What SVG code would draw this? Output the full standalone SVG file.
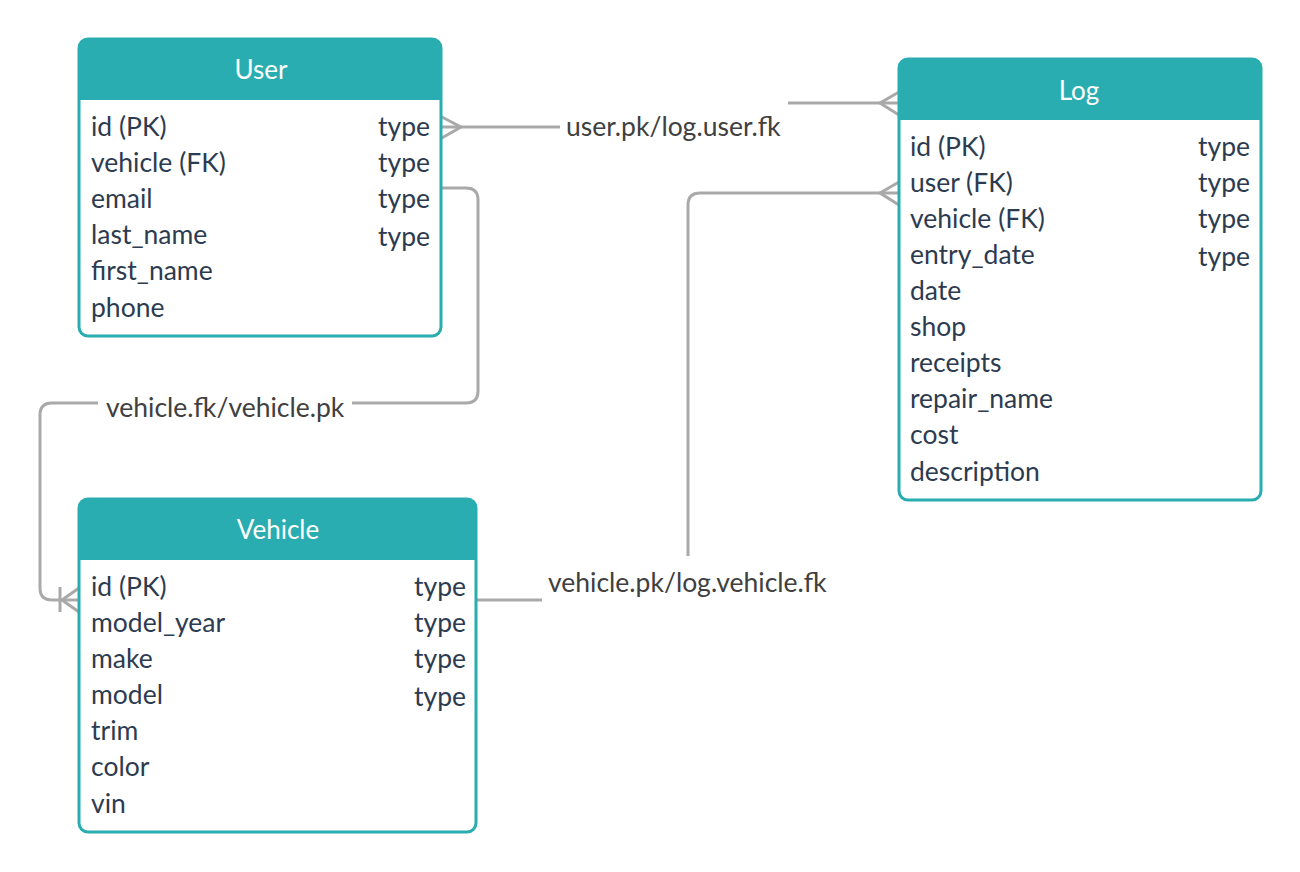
<svg xmlns="http://www.w3.org/2000/svg" width="1300" height="872" viewBox="0 0 1300 872">
<style>
.box{fill:#ffffff;stroke:#29adb0;stroke-width:3}
.hdr{fill:#29adb0}
.title{font-family:Lato,"Liberation Sans",sans-serif;font-size:26px;fill:#ffffff;text-anchor:middle}
.row{font-family:Lato,"Liberation Sans",sans-serif;font-size:26.5px;fill:#2d3b50}
.typ{font-family:Lato,"Liberation Sans",sans-serif;font-size:26.5px;fill:#2d3b50;text-anchor:end}
.conn{fill:none;stroke:#a9a9a9;stroke-width:3}
.lbl{font-family:Lato,"Liberation Sans",sans-serif;font-size:26.5px;fill:#404040}
</style>
<rect width="1300" height="872" fill="#ffffff"/>
<g id="connectors">
  <!-- User - Log -->
  <path class="conn" d="M442,127 H560"/>
  <path class="conn" d="M440,116 L461,127 L440,139"/>
  <path class="conn" d="M788,103 H898"/>
  <path class="conn" d="M899,92 L880,103 L899,115"/>
  <text class="lbl" x="566" y="136">user.pk/log.user.fk</text>
  <!-- User - Vehicle -->
  <path class="conn" d="M442,188 H466 Q478,188 478,200 V391 Q478,403 466,403 H352"/>
  <path class="conn" d="M98,403 H52 Q40,403 40,415 V588 Q40,600 52,600 H78"/>
  <path class="conn" d="M60,587 V612"/>
  <path class="conn" d="M79,588 L62,600 L79,612"/>
  <text class="lbl" x="106" y="417">vehicle.fk/vehicle.pk</text>
  <!-- Vehicle - Log -->
  <path class="conn" d="M477,600 H542"/>
  <path class="conn" d="M688,556 V205 Q688,193 700,193 H898"/>
  <path class="conn" d="M899,182 L880,193 L899,205"/>
  <text class="lbl" x="548" y="592">vehicle.pk/log.vehicle.fk</text>
</g>
<g id="user">
  <rect class="box" x="79" y="39" width="362" height="297" rx="9"/>
  <path class="hdr" d="M79,100 V48 Q79,39 88,39 H432 Q441,39 441,48 V100 Z"/>
  <text class="title" x="261" y="79">User</text>
  <text class="row" x="91" y="136">id (PK)</text>
  <text class="row" x="91" y="172">vehicle (FK)</text>
  <text class="row" x="91" y="208">email</text>
  <text class="row" x="91" y="244">last_name</text>
  <text class="row" x="91" y="280">first_name</text>
  <text class="row" x="91" y="317">phone</text>
  <text class="typ" x="430" y="136">type</text>
  <text class="typ" x="430" y="172">type</text>
  <text class="typ" x="430" y="208">type</text>
  <text class="typ" x="430" y="246">type</text>
</g>
<g id="log">
  <rect class="box" x="899" y="59" width="362" height="441" rx="9"/>
  <path class="hdr" d="M899,120 V68 Q899,59 908,59 H1252 Q1261,59 1261,68 V120 Z"/>
  <text class="title" x="1079" y="100">Log</text>
  <text class="row" x="910" y="156">id (PK)</text>
  <text class="row" x="910" y="192">user (FK)</text>
  <text class="row" x="910" y="228">vehicle (FK)</text>
  <text class="row" x="910" y="264">entry_date</text>
  <text class="row" x="910" y="300">date</text>
  <text class="row" x="910" y="336">shop</text>
  <text class="row" x="910" y="372">receipts</text>
  <text class="row" x="910" y="408">repair_name</text>
  <text class="row" x="910" y="444">cost</text>
  <text class="row" x="910" y="481">description</text>
  <text class="typ" x="1250" y="156">type</text>
  <text class="typ" x="1250" y="192">type</text>
  <text class="typ" x="1250" y="228">type</text>
  <text class="typ" x="1250" y="266">type</text>
</g>
<g id="vehicle">
  <rect class="box" x="79" y="499" width="397" height="333" rx="9"/>
  <path class="hdr" d="M79,560 V508 Q79,499 88,499 H467 Q476,499 476,508 V560 Z"/>
  <text class="title" x="278" y="539">Vehicle</text>
  <text class="row" x="91" y="596">id (PK)</text>
  <text class="row" x="91" y="632">model_year</text>
  <text class="row" x="91" y="668">make</text>
  <text class="row" x="91" y="704">model</text>
  <text class="row" x="91" y="740">trim</text>
  <text class="row" x="91" y="776">color</text>
  <text class="row" x="91" y="813">vin</text>
  <text class="typ" x="466" y="596">type</text>
  <text class="typ" x="466" y="632">type</text>
  <text class="typ" x="466" y="668">type</text>
  <text class="typ" x="466" y="706">type</text>
</g>
</svg>
